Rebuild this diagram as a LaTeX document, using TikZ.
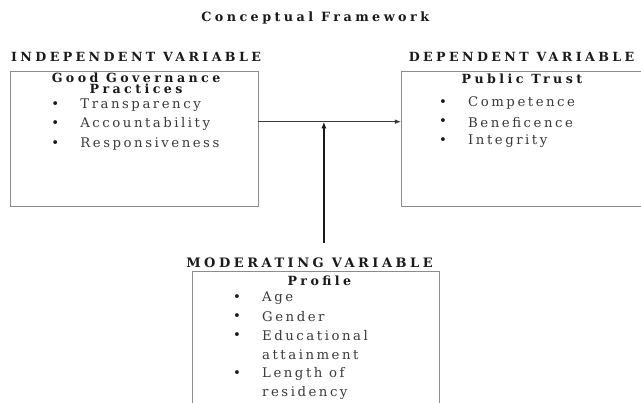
\documentclass[tikz,border=0pt]{standalone}
\usepackage{fontspec}
\setmainfont{DejaVu Serif}
\newfontfamily\headfont[LetterSpace=27]{DejaVu Serif}
\newfontfamily\itemfont[LetterSpace=19]{DejaVu Serif}
\usetikzlibrary{arrows.meta,positioning,calc}
\definecolor{Frame}{HTML}{8C8C8C}
\definecolor{Ink}{HTML}{1A1A1A}
\definecolor{Soft}{HTML}{3A3A3A}

\begin{document}
\begin{tikzpicture}[text=Ink,head/.style={font=\headfont\fontsize{9.5}{11}\selectfont\bfseries},varbox/.style={draw=Frame,line width=0.7pt},boxtitle/.style={font=\headfont\fontsize{9.5}{8.5}\selectfont\bfseries,align=center},dot/.style={font=\fontsize{10}{12}\selectfont,inner sep=0pt},item/.style={font=\itemfont\fontsize{10}{12}\selectfont,text=Soft,anchor=west,inner sep=0pt},link/.style={-{Latex[length=1.6mm,width=1.2mm]},line width=0.6pt,draw=Soft},uplink/.style={-{Latex[length=1.8mm,width=1.4mm]},line width=1pt,draw=Ink}]
\useasboundingbox (0,0) rectangle (16.96,10.66);
\fill[white] (0,0) rectangle (16.96,10.66);
\node[head,font=\headfont\fontsize{9.6}{11}\selectfont\bfseries] (title) at (8.34,10.18){Conceptual Framework};
\node[head] (ivlabel) at (3.60,9.16){INDEPENDENT VARIABLE};
\node[head] (dvlabel) at (13.80,9.16){DEPENDENT VARIABLE};
\node[head,font=\headfont\fontsize{9.8}{11}\selectfont\bfseries] (mvlabel) at (8.19,3.70){MODERATING VARIABLE};
\draw[varbox] (0.29,5.19) rectangle (6.83,8.78);\coordinate (ivbox) at (6.83,7.44);
\draw[varbox] (10.61,5.19) rectangle (17.20,8.78);\coordinate (dvbox) at (10.61,7.44);
\draw[varbox] (5.08,-0.30) rectangle (11.62,3.47);\coordinate (mvbox) at (8.57,4.23);
\node[boxtitle] (ivtitle) at (3.60,8.45){Good Governance\\Practices};
\node[boxtitle] (dvtitle) at (13.81,8.57){Public Trust};
\node[boxtitle] (mvtitle) at (8.45,3.23){Profile};
\node[dot] (ivd1) at (1.46,7.88){\textbullet};\node[item] (iv1) at (2.12,7.88){Transparency};
\node[dot] (ivd2) at (1.46,7.37){\textbullet};\node[item] (iv2) at (2.12,7.37){Accountability};
\node[dot] (ivd3) at (1.46,6.84){\textbullet};\node[item] (iv3) at (2.12,6.84){Responsiveness};
\node[dot] (dvd1) at (11.72,7.93){\textbullet};\node[item] (dv1) at (12.38,7.93){Competence};
\node[dot] (dvd2) at (11.72,7.43){\textbullet};\node[item] (dv2) at (12.38,7.43){Beneficence};
\node[dot] (dvd3) at (11.72,6.93){\textbullet};\node[item] (dv3) at (12.38,6.93){Integrity};
\node[dot] (mvd1) at (6.27,2.78){\textbullet};\node[item] (mv1) at (6.93,2.78){Age};
\node[dot] (mvd2) at (6.27,2.28){\textbullet};\node[item] (mv2) at (6.93,2.28){Gender};
\node[dot] (mvd3) at (6.27,1.77){\textbullet};\node[item] (mv3) at (6.93,1.77){Educational};
\node[item] (mv3b) at (6.93,1.27){attainment};
\node[dot] (mvd4) at (6.27,0.77){\textbullet};\node[item] (mv4) at (6.93,0.77){Length of};
\node[item] (mv4b) at (6.93,0.26){residency};
\draw[link] (ivbox) -- (dvbox);
\coordinate (meet) at (mvbox |- ivbox);
\draw[uplink] (mvbox) -- (meet);
\end{tikzpicture}
\end{document}
